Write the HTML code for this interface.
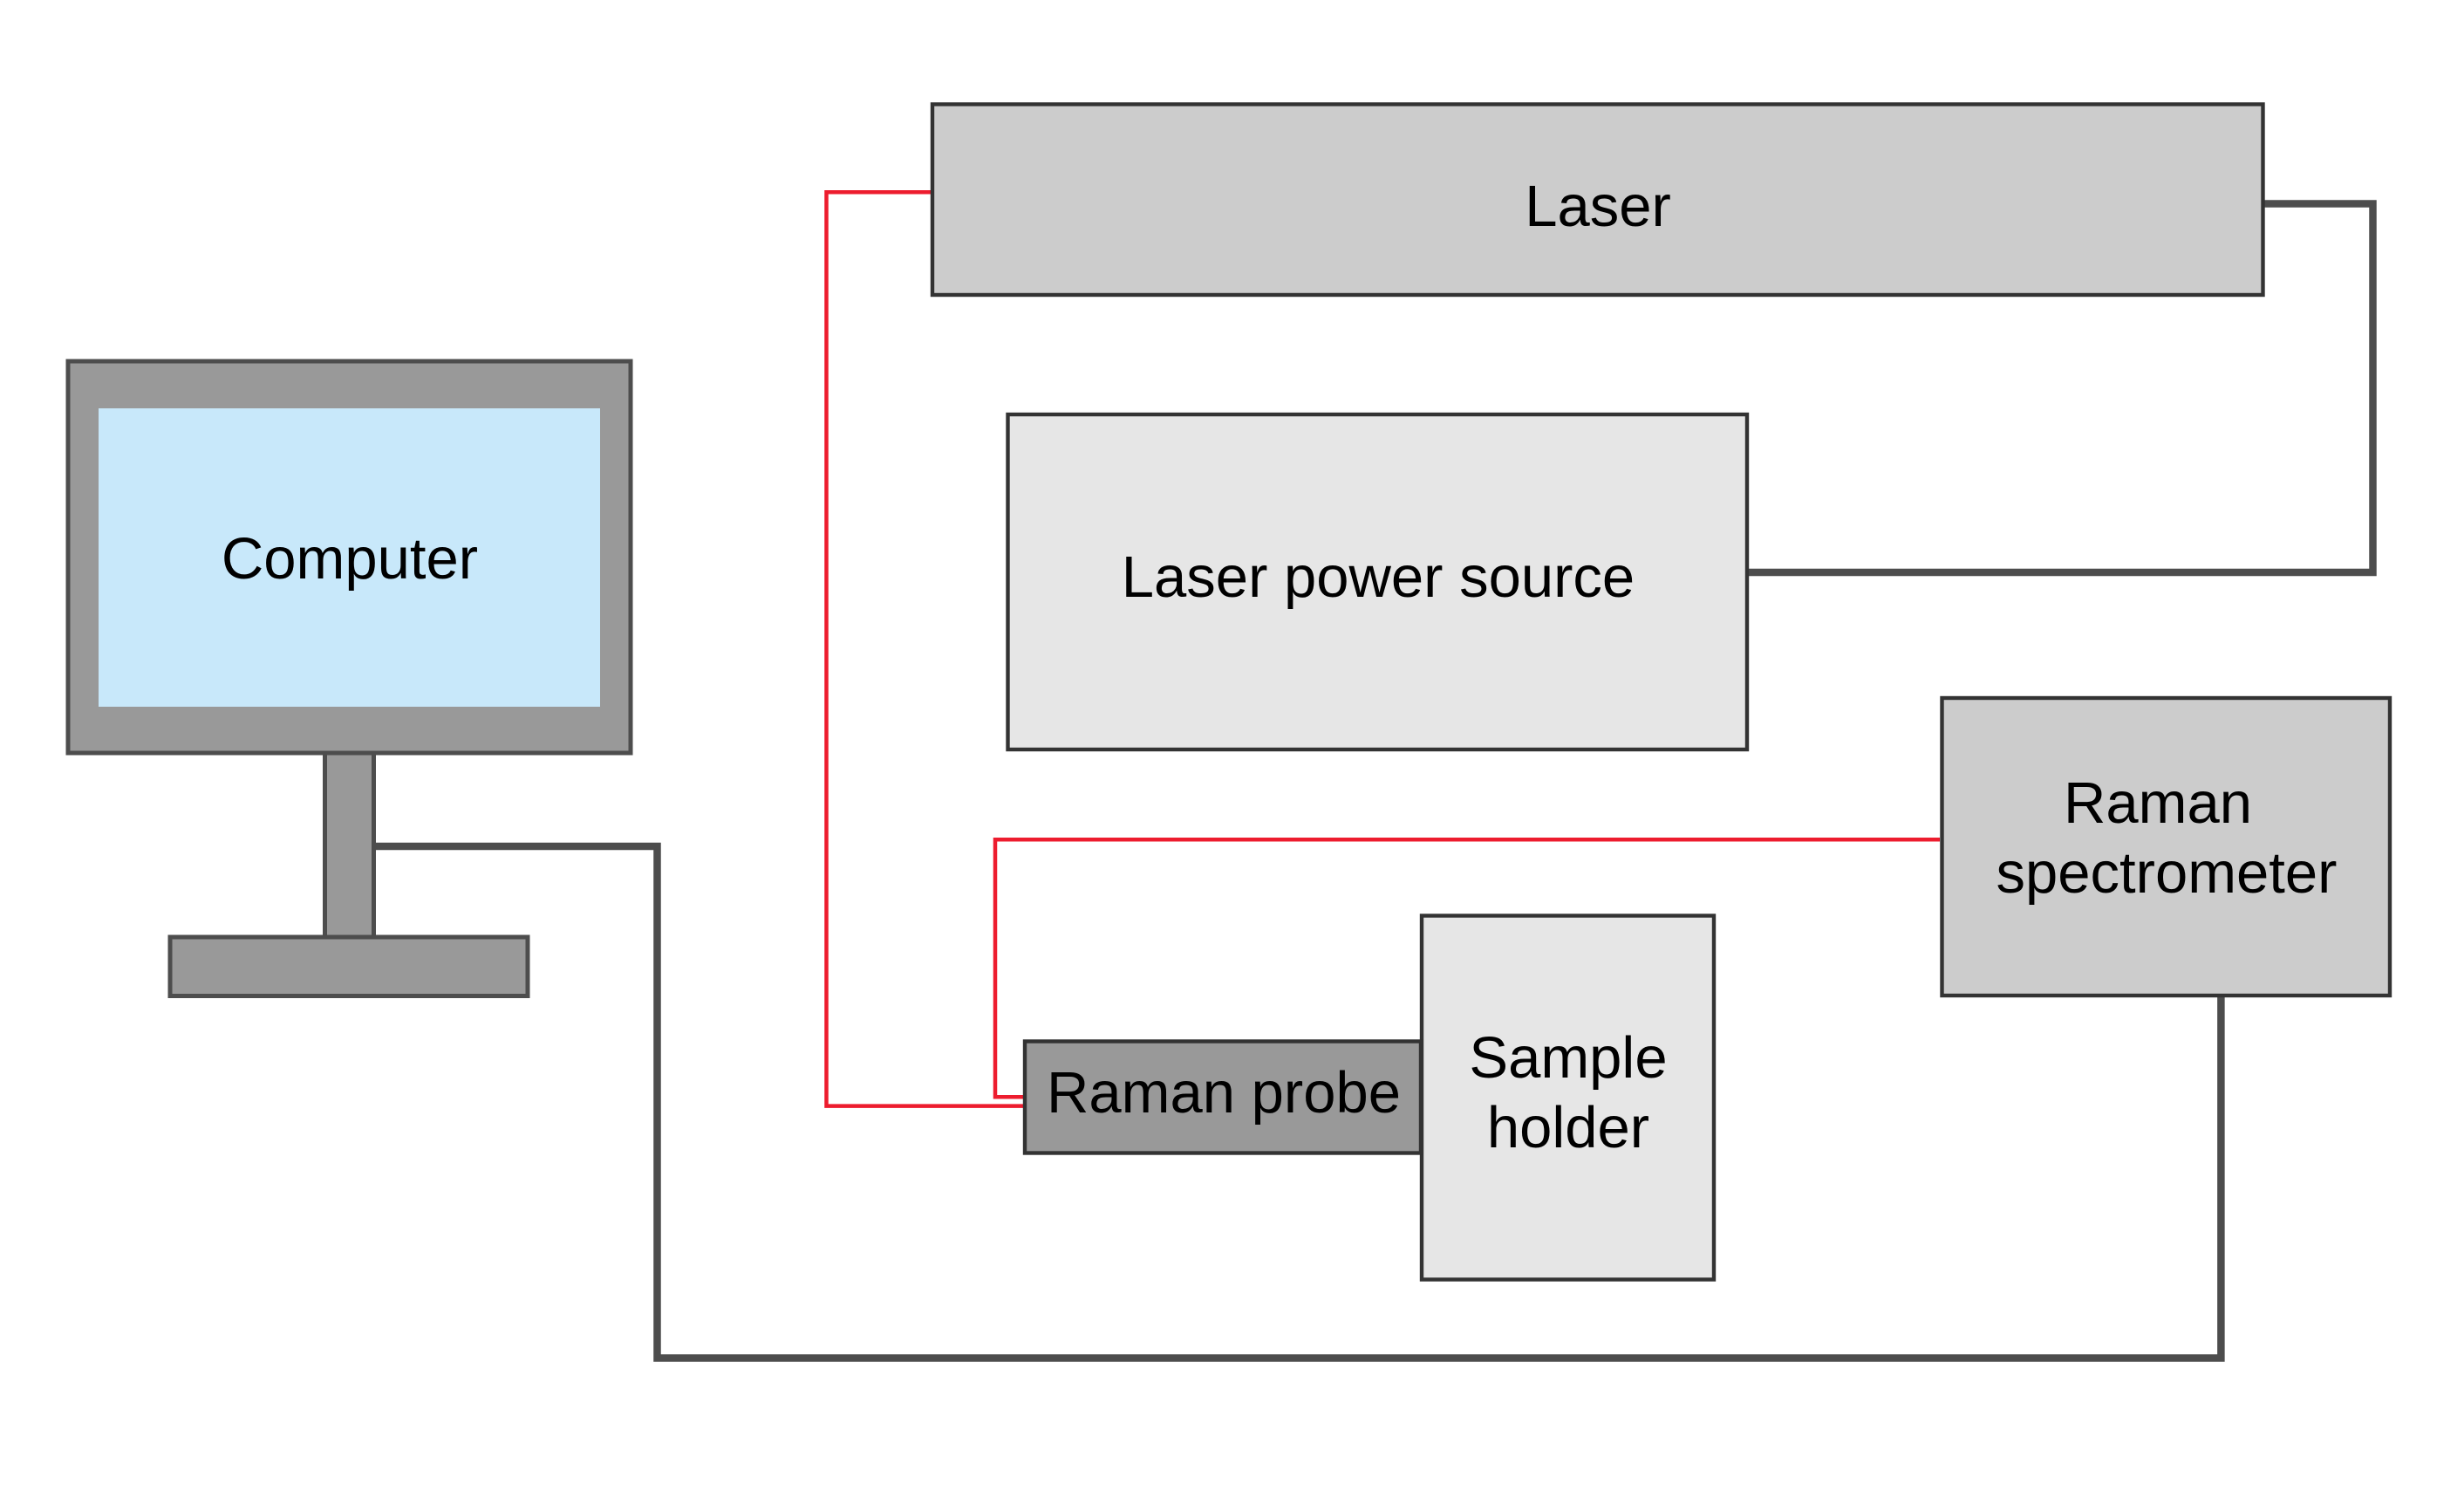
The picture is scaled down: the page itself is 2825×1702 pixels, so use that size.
<!DOCTYPE html>
<html>
<head>
<meta charset="utf-8">
<style>
html,body{margin:0;padding:0;background:#fff;width:2825px;height:1702px;overflow:hidden}
svg{display:block}
text{font-family:"Liberation Sans",sans-serif;font-size:67px;fill:#000;text-anchor:middle}
</style>
</head>
<body>
<svg width="2825" height="1702" viewBox="0 0 2825 1702" xmlns="http://www.w3.org/2000/svg">
<rect width="2825" height="1702" fill="#fff"/>
<!-- connectors -->
<g fill="none" stroke="#4d4d4d" stroke-width="8.5" stroke-linejoin="miter">
<polyline points="2596,233.5 2720.5,233.5 2720.5,656 2005,656"/>
<polyline points="430,970 753.5,970 753.5,1556.5 2546.4,1556.5 2546.4,1143"/>
</g>
<g fill="none" stroke="#ed1c2e" stroke-width="4.5" stroke-linejoin="miter">
<polyline points="1067,220.3 947.5,220.3 947.5,1267.6 1173,1267.6"/>
<polyline points="2224,962.2 1141,962.2 1141,1257.3 1173,1257.3"/>
</g>
<!-- computer -->
<g stroke="#4d4d4d" stroke-width="5" fill="#999">
<rect x="372.5" y="863" width="56" height="211"/>
<rect x="195" y="1074" width="410" height="67.5"/>
<rect x="78" y="414" width="645" height="449"/>
</g>
<rect x="113" y="468" width="575" height="342" fill="#c8e8fa"/>
<!-- boxes -->
<g stroke="#333" stroke-width="4.4">
<rect x="1069" y="119.5" width="1525.5" height="218.5" fill="#ccc"/>
<rect x="1155.5" y="475" width="847.5" height="384" fill="#e6e6e6"/>
<rect x="2226.5" y="800" width="513.5" height="341" fill="#ccc"/>
<rect x="1630" y="1049.5" width="335" height="417" fill="#e6e6e6"/>
<rect x="1175" y="1193.5" width="454" height="128" fill="#999"/>
</g>
<!-- labels -->
<text x="401" y="663">Computer</text>
<text x="1832" y="259">Laser</text>
<text x="1580" y="684">Laser power source</text>
<text x="1403" y="1275">Raman probe</text>
<text x="1798" y="1235">Sample</text>
<text x="1798" y="1315">holder</text>
<text x="2474" y="943">Raman</text>
<text x="2484" y="1023">spectrometer</text>
</svg>
</body>
</html>
